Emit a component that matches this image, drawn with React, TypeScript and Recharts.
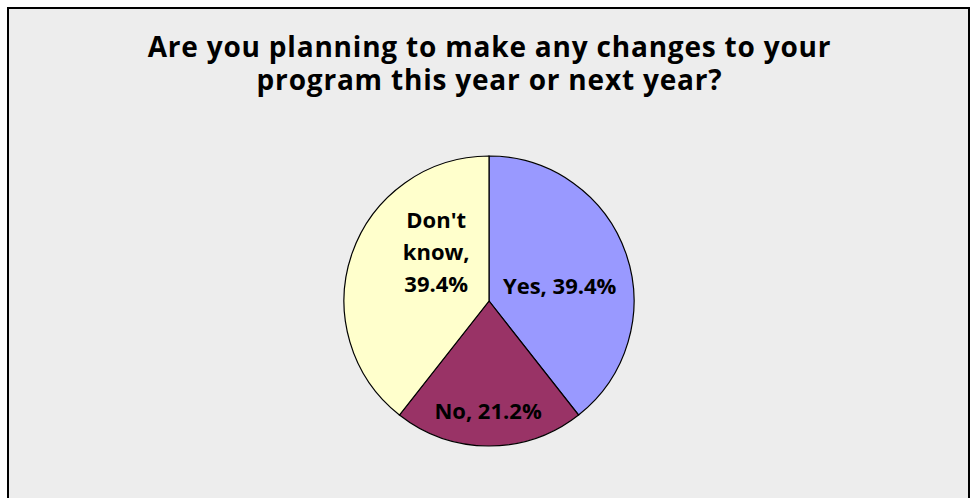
import React from 'react';
import { PieChart, Pie, Cell } from 'recharts';

const categories = ['Yes', 'No', "Don't know"];
const shares = [39.4, 21.2, 39.4];
const sliceColors = ['#9999ff', '#993366', '#ffffcc'];
const titleLines = ['Are you planning to make any changes to your', 'program this year or next year?'];

const data = categories.map((name, i) => ({ name, value: shares[i] }));

// Excel "best fit" label placement: radius factor and angle shift per slice
const labelPlacement = [
  { r: 0.5, shift: -6.3, wrap: false },
  { r: 0.755, shift: -0.5, wrap: false },
  { r: 0.5, shift: -24.2, wrap: true },
];

const RADIAN = Math.PI / 180;
const FONT = '"Open Sans", sans-serif';

const renderLabel = (props: any) => {
  const { cx, cy, midAngle, outerRadius, index, name, value } = props;
  const p = labelPlacement[index];
  const a = (midAngle + p.shift) * RADIAN;
  const x = cx + outerRadius * p.r * Math.cos(-a);
  const y = cy + outerRadius * p.r * Math.sin(-a);
  const lines = p.wrap ? [...`${name},`.split(' '), `${value}%`] : [`${name}, ${value}%`];
  const lh = 32;
  const y0 = y - ((lines.length - 1) * lh) / 2;
  return (
    <text
      x={x}
      y={y0}
      textAnchor="middle"
      dominantBaseline="central"
      fill="#000"
      fontFamily={FONT}
      fontWeight={700}
      fontSize={22}
      letterSpacing={0}
    >
      {lines.map((l, i) => (
        <tspan key={i} x={x} y={y0 + i * lh}>
          {l}
        </tspan>
      ))}
    </text>
  );
};

export default function App() {
  return (
    <div
      style={{
        position: 'absolute',
        left: 7,
        top: 7,
        width: 959,
        height: 500,
        border: '2px solid #000',
        background: '#ededed',
        fontFamily: FONT,
      }}
    >
      <div
        style={{
          position: 'absolute',
          top: 21,
          left: 0,
          width: 961,
          textAlign: 'center',
          fontWeight: 700,
          fontSize: 28,
          letterSpacing: 0.8,
          lineHeight: '33px',
          color: '#000',
        }}
      >
        {titleLines.map((t) => (
          <div key={t}>{t}</div>
        ))}
      </div>
      <PieChart
        width={959}
        height={490}
        margin={{ top: 0, right: 0, bottom: 0, left: 0 }}
        style={{ position: 'absolute', left: 0, top: 0 }}
      >
        <Pie
          data={data}
          dataKey="value"
          nameKey="name"
          cx={480}
          cy={292}
          outerRadius={145}
          startAngle={90}
          endAngle={-270}
          stroke="#000"
          strokeWidth={1.2}
          label={renderLabel}
          labelLine={false}
          isAnimationActive={false}
        >
          {data.map((d, i) => (
            <Cell key={d.name} fill={sliceColors[i]} />
          ))}
        </Pie>
      </PieChart>
    </div>
  );
}
